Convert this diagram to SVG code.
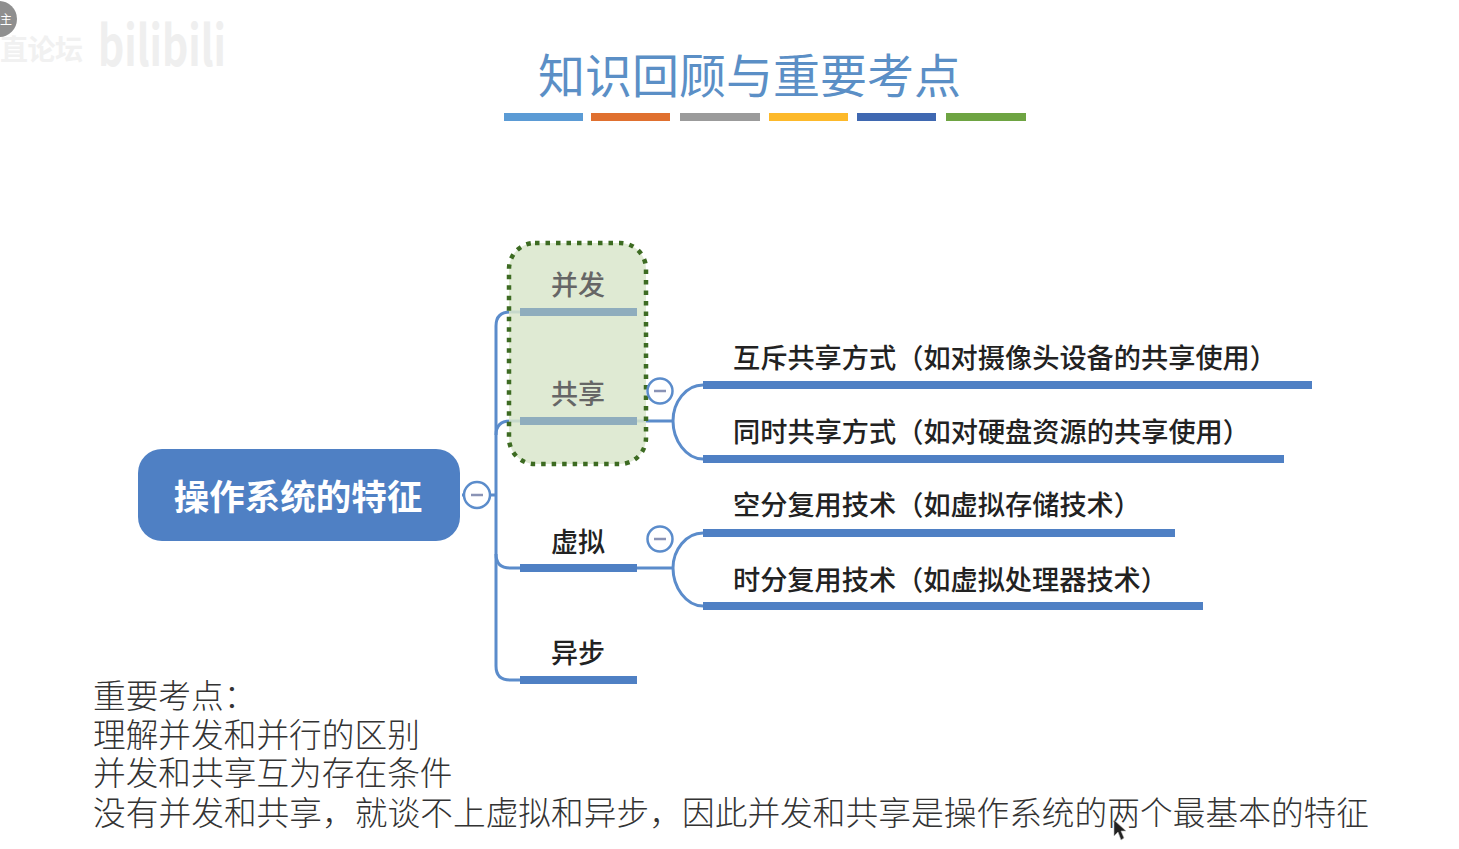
<svg xmlns="http://www.w3.org/2000/svg" width="1459" height="849" viewBox="0 0 1459 849">
<style>
text{font-family:"Noto Sans CJK SC","Noto Sans",sans-serif}
.title{font-size:47px;fill:#5b8fc6}
.sub{font-size:27.2px;fill:#222;font-weight:500}
.branch{font-size:27px;fill:#222;font-weight:500;text-anchor:middle}
.note{font-size:32.7px;fill:#333;font-weight:300}
.line{fill:none;stroke:#5b8ccb;stroke-width:3}
.u{fill:#4f80c4}
.col{fill:#fff;stroke:#5b8ccb;stroke-width:2.5}
.min{stroke:#8a93b5;stroke-width:2.5}
</style>
<g id="watermark">
<circle cx="-1" cy="19" r="18" fill="#8f8f8f"/>
<text x="0" y="24" font-size="12" fill="#fff">主</text>
<text x="0" y="60" font-size="28" font-weight="700" fill="#f1f1f1" textLength="83">直论坛</text>
<text x="98" y="66" font-size="56" font-weight="700" fill="#efefef" textLength="128" lengthAdjust="spacingAndGlyphs">bilibili</text>
</g>
<g id="title">
<text class="title" x="538" y="93" textLength="423">知识回顾与重要考点</text>
<rect x="504" y="113" width="79" height="8" fill="#5b9bd5"/>
<rect x="591" y="113" width="79" height="8" fill="#e0702f"/>
<rect x="680" y="113" width="80" height="8" fill="#9b9b9b"/>
<rect x="769" y="113" width="79" height="8" fill="#fdb92a"/>
<rect x="857" y="113" width="79" height="8" fill="#3f68b1"/>
<rect x="946" y="113" width="80" height="8" fill="#6ea442"/>
</g>
<g id="connectors">
<path class="line" d="M462 495H496"/>
<path class="line" d="M520 312H510Q496 312 496 326V666Q496 680 510 680H520"/>
<path class="line" d="M520 421H510Q496 421 496 435"/>
<path class="line" d="M496 554Q496 568 510 568H520"/>
<path class="line" d="M637 421H673M703 385C686 385 673 402 673 421C673 440 686 459 703 459"/>
<path class="line" d="M637 568H673M703 533C686 533 673 550 673 568C673 587 686 606 703 606"/>
</g>
<g id="root">
<rect x="138" y="449" width="322" height="92" rx="24" fill="#4f80c4"/>
<text x="298" y="510" font-size="35.5" font-weight="700" fill="#fff" text-anchor="middle">操作系统的特征</text>
<circle class="col" cx="477" cy="495" r="13"/><path class="min" d="M471 495H483"/>
</g>
<g id="virtual">
<rect class="u" x="520" y="564" width="117" height="8"/>
<text class="branch" x="578" y="552">虚拟</text>
<circle class="col" cx="660" cy="539" r="12.5"/><path class="min" d="M654 539H666"/>
</g>
<g id="async">
<rect class="u" x="520" y="676" width="117" height="8"/>
<text class="branch" x="578" y="663">异步</text>
</g>
<g id="sub-nodes">
<text class="sub" x="733" y="368" textLength="544">互斥共享方式（如对摄像头设备的共享使用）</text>
<rect class="u" x="703" y="381" width="609" height="8"/>
<text class="sub" x="733" y="442" textLength="517">同时共享方式（如对硬盘资源的共享使用）</text>
<rect class="u" x="703" y="455" width="581" height="8"/>
<text class="sub" x="733" y="515" textLength="408">空分复用技术（如虚拟存储技术）</text>
<rect class="u" x="703" y="529" width="472" height="8"/>
<text class="sub" x="733" y="590" textLength="435">时分复用技术（如虚拟处理器技术）</text>
<rect class="u" x="703" y="602" width="500" height="8"/>
</g>
<g id="highlight">
<rect x="509" y="243" width="137" height="221" rx="26" fill="#d9e6cb" fill-opacity=".85" stroke="#3d6b22" stroke-width="4.5" stroke-dasharray="4.5 6"/>
<rect x="520" y="308" width="117" height="8" fill="#8fadbd"/>
<text class="branch" x="578" y="295" style="fill:#666">并发</text>
<rect x="520" y="417" width="117" height="8" fill="#8fadbd"/>
<text class="branch" x="578" y="404" style="fill:#666">共享</text>
<circle class="col" cx="660" cy="391" r="12.5"/><path class="min" d="M654 391H666"/>
</g>
<g id="notes">
<text class="note" x="93" y="708">重要考点：</text>
<text class="note" x="93" y="747">理解并发和并行的区别</text>
<text class="note" x="93" y="785">并发和共享互为存在条件</text>
<text class="note" x="93" y="825" textLength="1276">没有并发和共享，就谈不上虚拟和异步，因此并发和共享是操作系统的两个最基本的特征</text>
</g>
<path id="cursor" d="M1114 820V836L1118 832L1121 840L1124 838L1121 831H1126Z" fill="#222" stroke="#bbb" stroke-width=".6"/>
</svg>
